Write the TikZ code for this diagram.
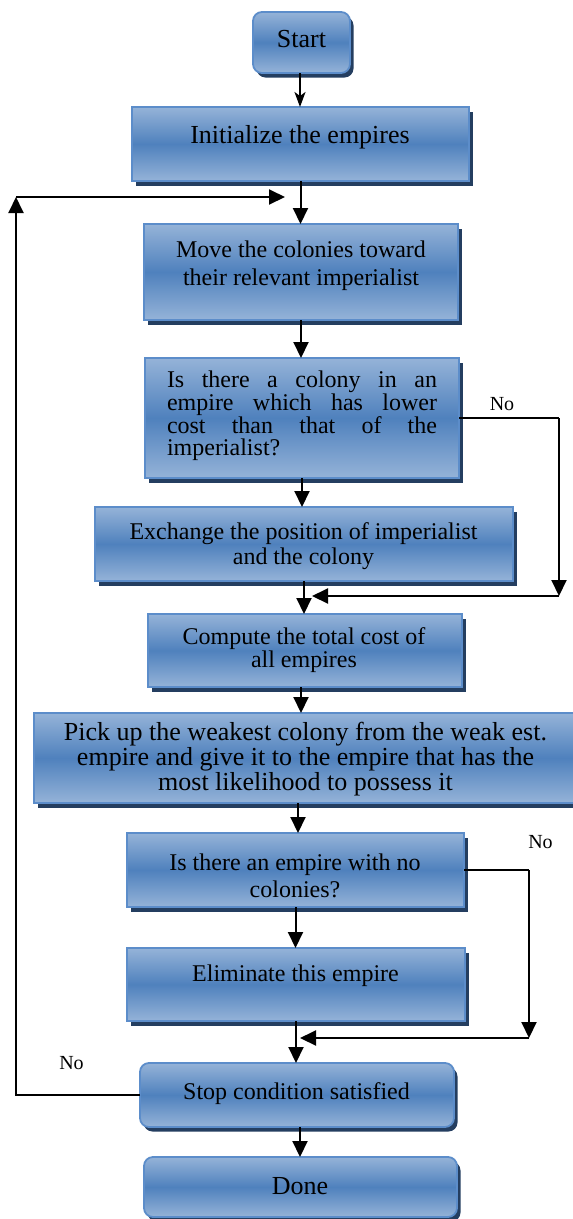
\documentclass[tikz,border=0pt]{standalone}
\usepackage{fontspec}
\setmainfont{Liberation Serif}
\usetikzlibrary{arrows.meta,shadows,calc}
\definecolor{lb}{RGB}{149,179,216}
\definecolor{mb}{RGB}{79,129,189}
\definecolor{bd}{RGB}{92,141,202}
\definecolor{sh}{RGB}{36,62,96}
\begin{document}
\begin{tikzpicture}[x=1pt,y=-1pt,
 box/.style={draw=bd, line width=1.8pt, top color=lb, bottom color=lb, middle color=mb,
   drop shadow={shadow xshift=3.5pt, shadow yshift=-4.5pt, fill=sh, opacity=1},
   inner sep=0pt, outer sep=0pt},
 rbox/.style={box, rounded corners=9pt},
 txt/.style={align=center, inner sep=0pt, font=\fontsize{24}{27}\selectfont},
 big/.style={font=\fontsize{26}{28}\selectfont},
 arr/.style={line width=2pt, -{Triangle[length=16pt,width=15pt]}},
 ln/.style={line width=2pt},
 lbl/.style={font=\fontsize{20}{22}\selectfont, inner sep=0pt, anchor=base}]
\useasboundingbox (0,0) rectangle (573,1219);

% boxes
\node[rbox, minimum width=97pt, minimum height=61pt] (start) at (301.5,42.5) {};
\node[box, minimum width=337pt, minimum height=74pt] (init) at (300.5,144) {};
\node[box, minimum width=314pt, minimum height=96pt] (move) at (301,272) {};
\node[box, minimum width=314pt, minimum height=120pt] (col) at (302,418) {};
\node[box, minimum width=418pt, minimum height=74pt] (exch) at (304,544) {};
\node[box, minimum width=314pt, minimum height=73pt] (comp) at (305,650.5) {};
\node[box, minimum width=540pt, minimum height=90pt] (pick) at (304,758) {};
\node[box, minimum width=337pt, minimum height=74pt] (emp) at (295.5,870) {};
\node[box, minimum width=338pt, minimum height=73pt] (elim) at (296,984.5) {};
\node[rbox, minimum width=314pt, minimum height=64pt] (stop) at (297,1095) {};
\node[rbox, minimum width=313pt, minimum height=60pt] (done) at (300.5,1187) {};

% texts
\node[txt, big, anchor=base] (tstart) at (301.5,47) {Start};
\node[txt, big, anchor=base] (tinit) at (300,143) {Initialize the empires};
\node[txt, font=\fontsize{24}{28.5}\selectfont] (tmove) at (301,265.5) {Move the colonies toward\\their relevant imperialist};
\node[txt, font=\fontsize{24}{21.8}\selectfont, align=justify, text width=270pt] (tcol) at (302,415.5)
  {Is there a colony in an\linebreak empire which has lower\linebreak cost than that of the\linebreak imperialist?};
\node[txt, font=\fontsize{24}{25.5}\selectfont] (texch) at (303.5,546) {Exchange the position of imperialist\\and the colony};
\node[txt, font=\fontsize{24}{23.3}\selectfont] (tcomp) at (304,650) {Compute the total cost of\\all empires};
\node[txt, font=\fontsize{26}{22.5}\selectfont] (tpick) at (305.5,759) {Pick up the weakest colony from the weak est.\\empire and give it to the empire that has the\\most likelihood to possess it};
\node[txt, font=\fontsize{24}{27}\selectfont] (temp) at (295,875.5) {Is there an empire with no\\colonies?};
\node[txt, anchor=base] (telim) at (295.5,981) {Eliminate this empire};
\node[txt, anchor=base] (tstop) at (296.5,1099) {Stop condition satisfied};
\node[txt, big, anchor=base] (tdone) at (300,1194) {Done};

% labels
\node[lbl] (no1) at (502,410) {No};
\node[lbl] (no2) at (540.5,848) {No};
\node[lbl] (no3) at (71.5,1069) {No};

% helper coordinates
\coordinate (l1) at (16,197);
\coordinate (l2) at (285,197);
\coordinate (r1) at (559,418);
\coordinate (r2) at (559,596);
\coordinate (r3) at (312,596);
\coordinate (s1) at (529,870);
\coordinate (s2) at (529,1038);
\coordinate (s3) at (300,1038);

% connectors
\draw[line width=2pt, -{Stealth[length=15pt,width=11pt,inset=4pt]}] ([xshift=-1.5pt]start.south) -- ([xshift=-1.5pt]start.south |- init.north);
\draw[arr] (init.south) -- (init.south |- move.north);
\draw[arr] (move.south) -- (move.south |- col.north);
\draw[arr] (stop.west) -| (l1);
\draw[arr] (l1) -- (l2);
\draw[arr] (col.south) -- (col.south |- exch.north);
\draw[ln] (col.east) -- (r1);
\draw[arr] (r1) -- (r2);
\draw[arr] (r2) -- (r3);
\draw[arr] (exch.south) -- (exch.south |- comp.north);
\draw[arr] ([xshift=-4pt]comp.south) -- ([xshift=-4pt]comp.south |- pick.north);
\draw[arr] ([xshift=-6pt]pick.south) -- ([xshift=-6pt]pick.south |- emp.north);
\draw[ln] (emp.east) -- (s1);
\draw[arr] (s1) -- (s2);
\draw[arr] (s2) -- (s3);
\draw[arr] (emp.south) -- (emp.south |- elim.north);
\draw[arr] (elim.south) -- (elim.south |- stop.north);
\draw[arr] ([xshift=3pt]stop.south) -- ([xshift=3pt]stop.south |- done.north);
\end{tikzpicture}
\end{document}
